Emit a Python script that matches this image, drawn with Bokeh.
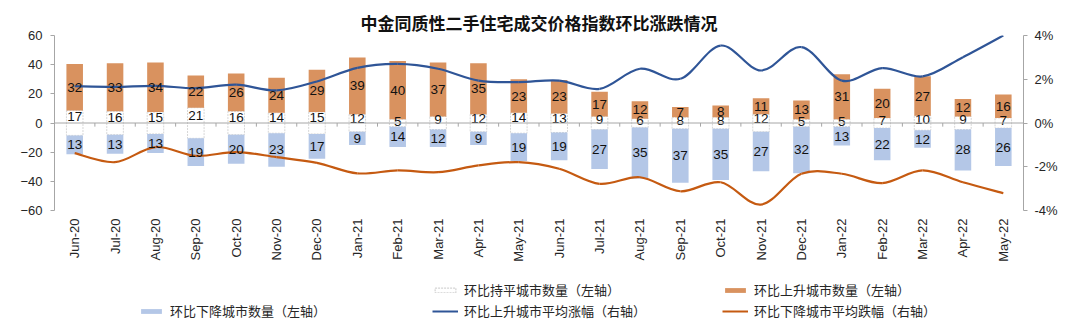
import numpy as np
from bokeh.plotting import figure
from bokeh.layouts import column
from bokeh.models import (Range1d, LinearAxis, FixedTicker, PrintfTickFormatter, Span,
                          Title, Legend, LegendItem, ColumnDataSource)
from bokeh.core.properties import value
from bokeh.embed import file_html
from bokeh.resources import INLINE

# ---------------- data ----------------
months = ["Jun-20", "Jul-20", "Aug-20", "Sep-20", "Oct-20", "Nov-20", "Dec-20",
          "Jan-21", "Feb-21", "Mar-21", "Apr-21", "May-21", "Jun-21", "Jul-21",
          "Aug-21", "Sep-21", "Oct-21", "Nov-21", "Dec-21", "Jan-22", "Feb-22",
          "Mar-22", "Apr-22", "May-22"]
up_count = [32, 33, 34, 22, 26, 24, 29, 39, 40, 37, 35, 23, 23, 17, 12, 7, 8, 11, 13, 31, 20, 27, 12, 16]
flat_count = [17, 16, 15, 21, 16, 14, 15, 12, 5, 9, 12, 14, 13, 9, 6, 8, 8, 12, 5, 5, 7, 10, 9, 7]
down_count = [13, 13, 13, 19, 20, 23, 17, 9, 14, 12, 9, 19, 19, 27, 35, 37, 35, 27, 32, 13, 22, 12, 28, 26]
up_avg = [1.68, 1.65, 1.70, 1.59, 1.75, 1.49, 1.90, 2.52, 2.70, 2.48, 1.94, 1.87,
          1.94, 1.56, 2.48, 2.02, 3.54, 2.40, 3.47, 1.94, 2.51, 2.13, 3.01, 4.00]
down_avg = [-1.38, -1.79, -1.10, -1.50, -1.33, -1.56, -1.82, -2.30, -2.17, -2.25, -1.94, -1.79,
            -2.09, -2.78, -2.48, -3.12, -2.71, -3.73, -2.32, -2.32, -2.75, -2.17, -2.71, -3.21]

left_ticks = [-60, -40, -20, 0, 20, 40, 60]
right_ticks = [-4, -2, 0, 2, 4]
title_text = "中金同质性二手住宅成交价格指数环比涨跌情况"
legend_labels = ["环比持平城市数量（左轴）", "环比上升城市数量（左轴）", "环比下降城市数量（左轴）",
                 "环比上升城市平均涨幅（右轴）", "环比下降城市平均跌幅（右轴）"]

# ---------------- derived ----------------
n = len(months)
xs = np.arange(n, dtype=float)
up = np.array(up_count, dtype=float)
flat = np.array(flat_count, dtype=float)
down = np.array(down_count, dtype=float)
half = flat / 2.0

ORANGE_BAR = "#D9925F"
BLUE_BAR = "#B4C7E7"
BLUE_LINE = "#2F5597"
ORANGE_LINE = "#C55A11"
AXIS_C = "#A6A6A6"
TEXT_C = "#262626"
FLAT_EDGE = "#D6D6D6"

W = 1080
BL, BR = 54, 57          # left / right borders (frame spans 54..1023)
FW = W - BL - BR
LEG_H = 51
MAIN_H = 326 - LEG_H

# ---------------- main chart ----------------
p = figure(width=W, height=MAIN_H, x_range=Range1d(-0.5, n - 0.5), y_range=Range1d(-60, 60),
           output_backend="svg", toolbar_location=None,
           min_border_left=BL, min_border_right=BR, min_border_top=35,
           min_border_bottom=MAIN_H - 35 - 175)
p.outline_line_color = None
p.xgrid.visible = False
p.ygrid.visible = False
p.title = Title(text=title_text, align="center", vertical_align="middle",
                text_font="Noto Sans CJK SC", text_font_style="bold", text_font_size="17px",
                text_color="#111111", standoff=0, offset=0)

xa = p.xaxis[0]
xa.ticker = FixedTicker(ticks=list(range(n)))
xa.major_label_overrides = {i: m for i, m in enumerate(months)}
xa.major_label_orientation = np.pi / 2
xa.axis_line_color = None
xa.major_tick_line_color = None
xa.minor_tick_line_color = None
xa.major_tick_out = 0
xa.major_tick_in = 0
xa.major_label_standoff = 8
xa.major_label_text_font = "Liberation Sans"
xa.major_label_text_font_size = "13px"
xa.major_label_text_color = TEXT_C

ya = p.yaxis[0]
ya.ticker = FixedTicker(ticks=left_ticks)
ya.axis_line_color = AXIS_C
ya.major_tick_line_color = AXIS_C
ya.minor_tick_line_color = None
ya.major_tick_out = 4
ya.major_tick_in = 0
ya.major_label_standoff = 8
ya.major_label_text_font = "Liberation Sans"
ya.major_label_text_font_size = "13px"
ya.major_label_text_color = TEXT_C

p.extra_y_ranges = {"pct": Range1d(-4, 4)}
ra = LinearAxis(y_range_name="pct", ticker=FixedTicker(ticks=right_ticks),
                formatter=PrintfTickFormatter(format="%d%%"))
ra.axis_line_color = AXIS_C
ra.major_tick_line_color = AXIS_C
ra.minor_tick_line_color = None
ra.major_tick_out = 4
ra.major_tick_in = 0
ra.major_label_standoff = 7
ra.major_label_text_font = "Liberation Sans"
ra.major_label_text_font_size = "13px"
ra.major_label_text_color = TEXT_C
p.add_layout(ra, "right")

bw = 0.41
up_style = dict(fill_color=ORANGE_BAR, line_color=None)
down_style = dict(fill_color=BLUE_BAR, line_color=None)
p.vbar(x=xs, bottom=-half, top=half, width=bw, fill_color="white",
       line_color=FLAT_EDGE, line_dash="2 1", line_width=1)
p.vbar(x=xs, bottom=half, top=half + up, width=bw, **up_style)
p.vbar(x=xs, bottom=-half - down, top=-half, width=bw, **down_style)

p.add_layout(Span(location=0, dimension="width", line_color=AXIS_C, line_width=1))
bounds = np.arange(n + 1) - 0.5
p.segment(x0=bounds[1:-1], y0=np.zeros(n - 1), x1=bounds[1:-1], y1=np.full(n - 1, -2.5),
          line_color=AXIS_C, line_width=1)


def smooth(fig, vals, color, **kw):
    P = np.array(vals, dtype=float)
    Pm = np.concatenate([[P[0]], P[:-1]])
    Pp = np.concatenate([P[1:], [P[-1]]])
    Xm = np.concatenate([[xs[0]], xs[:-1]])
    Xp = np.concatenate([xs[1:], [xs[-1]]])
    dx = (Xp - Xm) / 6.0
    dy = (Pp - Pm) / 6.0
    return fig.bezier(x0=xs[:-1], y0=P[:-1], x1=xs[1:], y1=P[1:],
                      cx0=xs[:-1] + dx[:-1], cy0=P[:-1] + dy[:-1],
                      cx1=xs[1:] - dx[1:], cy1=P[1:] - dy[1:],
                      line_color=color, line_width=2.2, **kw)


smooth(p, up_avg, BLUE_LINE, y_range_name="pct")
smooth(p, down_avg, ORANGE_LINE, y_range_name="pct")

lab_x = np.concatenate([xs, xs, xs])
lab_y = np.concatenate([half + up / 2.0, half / 2.0, -half - down / 2.0])
lab_t = [str(v) for v in up_count] + [str(v) for v in flat_count] + [str(v) for v in down_count]
src = ColumnDataSource(dict(x=lab_x, y=lab_y, t=lab_t))
p.text(x="x", y="y", text="t", source=src, text_font=value("Liberation Sans"),
       text_font_size=value("13.5px"), text_color="#111111", text_align="center",
       text_baseline="middle")

# ---------------- legend strip ----------------
# key renderers carry the same series but are hidden; only their legend swatches show
lg = figure(width=W, height=LEG_H, x_range=Range1d(0, FW), y_range=Range1d(0, LEG_H),
            x_axis_type=None, y_axis_type=None, output_backend="svg", toolbar_location=None,
            min_border=0, min_border_left=BL, min_border_right=BR, min_border_top=0,
            min_border_bottom=0)
lg.outline_line_color = None
lg.xgrid.visible = False
lg.ygrid.visible = False
g_flat = lg.vbar(x=xs, bottom=-half, top=half, width=bw, visible=False,
                 fill_color="white", line_color="#C8C8C8", line_dash="2 1", line_width=1)
g_up = lg.vbar(x=xs, bottom=half, top=half + up, width=bw, visible=False, **up_style)
g_down = lg.vbar(x=xs, bottom=-half - down, top=-half, width=bw, visible=False, **down_style)
g_upl = lg.line(x=xs, y=up_avg, visible=False, line_color=BLUE_LINE, line_width=2)
g_dnl = lg.line(x=xs, y=down_avg, visible=False, line_color=ORANGE_LINE, line_width=2)


def add_leg(renderer, label, gx, ly):
    leg = Legend(items=[LegendItem(label=value(label), renderers=[renderer])],
                 location=(gx - BL, ly), orientation="horizontal", glyph_width=26, glyph_height=6,
                 label_standoff=6, padding=0, margin=0, spacing=0, border_line_alpha=0,
                 background_fill_alpha=0, label_text_font="Noto Sans CJK SC",
                 label_text_font_size="13px", label_text_color=TEXT_C, label_height=6,
                 click_policy="none")
    lg.add_layout(leg)


add_leg(g_flat, legend_labels[0], 432, 27)
add_leg(g_up, legend_labels[1], 722, 27)
add_leg(g_down, legend_labels[2], 138, 6)
add_leg(g_upl, legend_labels[3], 432, 6)
add_leg(g_dnl, legend_labels[4], 722, 6)

layout = column(p, lg, spacing=0)
open("out.html", "w").write(file_html(layout, INLINE))
